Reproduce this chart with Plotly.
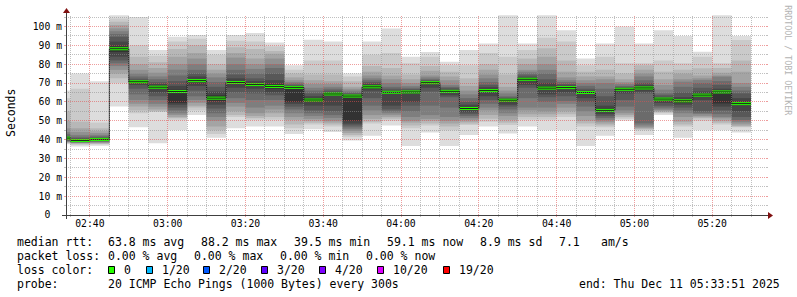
import math
import plotly.graph_objects as go
from datetime import datetime, timedelta

# ---------------- data ----------------
DAY = "2025-12-11"
range_start = "02:33:51"
range_end = "05:33:51"

interval_start = ["02:30", "02:35", "02:40", "02:45", "02:50", "02:55",
                  "03:00", "03:05", "03:10", "03:15", "03:20", "03:25",
                  "03:30", "03:35", "03:40", "03:45", "03:50", "03:55",
                  "04:00", "04:05", "04:10", "04:15", "04:20", "04:25",
                  "04:30", "04:35", "04:40", "04:45", "04:50", "04:55",
                  "05:00", "05:05", "05:10", "05:15", "05:20", "05:25"]

# 20 sorted ping RTTs (ms) per 5-minute interval
pings_0230 = [37.5, 38, 38.2, 38.5, 38.8, 39, 39.2, 39.5, 40, 40.5, 41, 41.5, 42, 43, 44, 46, 50, 55, 62, 66]
pings_0235 = [36.3, 37.2, 37.8, 38, 38.2, 38.4, 38.6, 38.8, 39, 39.2, 39.8, 40.2, 40.8, 41.5, 42.5, 44, 46, 49.5, 67, 75]
pings_0240 = [36.8, 37.5, 37.8, 38.1, 38.4, 38.7, 39, 39.3, 39.6, 39.9, 40.4, 40.8, 41.2, 41.8, 42.5, 43.5, 44.5, 46, 49, 71]
pings_0245 = [57.5, 70, 72.5, 75, 77, 79, 80.5, 82, 84, 86.5, 89.5, 92, 94.5, 96, 97.5, 99, 100.8, 102.5, 104.3, 106]
pings_0250 = [46.5, 54, 55.5, 57.5, 59, 61, 64, 67, 69, 70.2, 71.1, 71.6, 72.3, 73.5, 75, 77, 80, 84, 90, 105]
pings_0255 = [38, 54.8, 55, 56, 57.5, 59, 61, 63, 65, 67, 68.5, 69.5, 70.5, 72, 73.5, 75.5, 78, 81, 84.5, 87.5]
pings_0300 = [45, 50.5, 51.5, 52, 53, 54, 55.5, 57, 58.5, 59.5, 66.5, 68.5, 71, 74, 77, 80, 84, 88, 92, 94.5]
pings_0305 = [53, 55.5, 57, 58, 59.5, 61, 63, 66, 68.5, 70.5, 72, 73.5, 75, 77, 80, 83, 86, 90, 93.5, 95.5]
pings_0310 = [41, 43, 45, 47, 50, 52, 54, 56.5, 58.5, 60.5, 63.5, 65.5, 68, 70.5, 73, 75, 77, 80, 85, 87.5]
pings_0315 = [46, 52, 53, 55, 57.5, 59.5, 62, 65, 67.5, 69.5, 71, 72.5, 74.5, 77, 80, 83.5, 86, 89, 92.5, 95.5]
pings_0320 = [47, 50.5, 51.5, 52.5, 54, 57, 61, 64.5, 67, 68.5, 70, 71, 72.5, 75, 77.5, 80, 83, 88, 92, 96.5]
pings_0325 = [47, 50.5, 52, 54, 56, 58, 61, 63.5, 65, 67, 69.5, 71.5, 75, 78, 80, 83, 85.5, 87, 89.5, 91.5]
pings_0330 = [43, 46, 48, 50.5, 52, 54, 56, 57.5, 59, 60, 68, 68.5, 69, 69.8, 70.5, 71.5, 73, 75, 77, 79.5]
pings_0335 = [45.5, 48, 49, 50, 51, 52.5, 54, 55.5, 58, 60, 62, 63, 64.5, 66, 67.5, 69.5, 71.5, 74.5, 82, 93]
pings_0340 = [44, 47, 48, 49, 50, 51.5, 53, 55, 58, 63.5, 64.7, 65.3, 66, 67, 68, 69.5, 71, 74.5, 82, 92]
pings_0345 = [39.5, 41.5, 42.5, 43.5, 44.5, 45.5, 46.5, 47.5, 48.5, 50, 63.5, 64, 64.5, 65, 66, 67, 68, 71, 73.5, 75]
pings_0350 = [42, 48.5, 49.5, 51, 53, 55.5, 58, 62, 66, 67, 68.8, 69.5, 70.5, 71.5, 72.5, 74, 76, 79, 85, 92]
pings_0355 = [47.5, 50, 51, 52, 53, 54, 55, 56, 58, 64.5, 65.5, 66, 67, 68, 70, 72, 74, 78, 86, 99]
pings_0400 = [36.6, 46, 47.5, 49, 50, 52, 55, 58, 60, 64.5, 65.7, 66.2, 66.8, 67.5, 68.5, 70, 72, 74.5, 80.5, 84]
pings_0405 = [43.7, 47.5, 48.5, 50, 51, 53, 58, 65.5, 67.5, 69.5, 70.6, 71, 71.5, 72, 73, 74, 76.5, 79, 84, 86.5]
pings_0410 = [36.6, 45, 47, 48.5, 50, 52, 57, 62.5, 63.5, 64.8, 66, 66.5, 67.5, 68, 69, 71.5, 73.5, 76, 79.5, 81.3]
pings_0415 = [42.4, 47.7, 48.5, 49.5, 50.5, 51.5, 52.5, 53.5, 54.5, 55.7, 57.3, 58.5, 60, 62, 64, 66, 68.5, 72.5, 79.5, 87.5]
pings_0420 = [47, 49.5, 51, 53, 55.5, 57, 59, 61, 63, 65.2, 66.8, 67.8, 69, 70.5, 72.5, 74.5, 77, 80, 86, 91]
pings_0425 = [43.3, 47.7, 49, 50.5, 52.5, 54, 56, 57.5, 58.5, 60.3, 61.3, 61.8, 62.3, 63, 64.5, 66, 68, 74.5, 84, 106]
pings_0430 = [47, 50.5, 52, 53.5, 55.5, 57, 62, 67.5, 69, 71.3, 72.5, 73, 74, 75, 76, 77, 80, 83, 87.5, 91]
pings_0435 = [45, 50.5, 52, 53.5, 55, 57, 60, 62.5, 64, 66.3, 68.5, 70, 72, 75, 77, 80, 84, 88.5, 94, 106]
pings_0440 = [45, 52, 53.5, 55, 57, 59, 60.5, 63, 65, 67, 68, 68.7, 69.5, 70.5, 71.5, 73, 76, 82, 92, 98]
pings_0445 = [36.6, 47, 48.5, 50, 52.5, 55, 57.5, 60, 62, 64.2, 65.4, 66, 67, 68.5, 70, 71.5, 73.5, 76, 79.5, 83]
pings_0450 = [42, 46.5, 47.5, 48.5, 49.5, 50.5, 51.5, 52.5, 53.5, 54.8, 56.5, 58, 63, 67, 70, 72, 73.5, 77, 84, 91]
pings_0455 = [50, 51, 52, 53, 54, 55.5, 57.5, 61, 64.5, 66, 67, 67.5, 68, 68.5, 69.5, 70.5, 72, 75, 80.5, 100]
pings_0500 = [42.4, 45, 45.5, 46, 46.5, 47.5, 48.6, 64.5, 65.5, 66.5, 68, 69, 70, 71.5, 73.5, 75, 77, 79.5, 80.5, 91]
pings_0505 = [53, 54, 54.5, 55, 55.5, 56, 57, 58, 59.5, 61, 62, 62.5, 63.5, 64.5, 66.5, 69, 72, 76, 82, 98]
pings_0510 = [41, 47, 48, 49.5, 52, 54, 55.5, 57, 58.5, 59.5, 61.5, 62.5, 65, 68, 70.7, 72, 75, 77, 80.5, 95]
pings_0515 = [45, 50, 51.3, 51.8, 52.5, 53.5, 54, 55, 61, 62.8, 64.3, 65.5, 67.5, 70, 71.6, 72.5, 74, 77.8, 84, 86.6]
pings_0520 = [45, 48, 49, 50, 51.3, 52, 53.5, 55.5, 57.5, 59.2, 66, 67, 69, 71, 73.4, 74, 75.5, 78, 80.5, 106]
pings_0525 = [43.7, 46.5, 47, 47.5, 48.5, 49.5, 50.4, 52, 55, 58.5, 60, 62, 64.5, 66, 68, 70, 76, 82, 92.8, 95]

median_rtt = [40.8, 39.5, 40.1, 88.2, 70.7, 67.8, 65.5, 71.3, 62.0, 70.3, 69.2, 68.2,
              67.7, 61.0, 64.2, 63.1, 68.0, 65.1, 65.3, 70.2, 65.6, 56.5, 66.0, 60.9,
              72.0, 67.3, 67.6, 65.0, 55.5, 66.7, 67.4, 61.5, 60.6, 63.6, 65.3, 59.1]

x_tick_labels = ["02:40", "03:00", "03:20", "03:40", "04:00", "04:20", "04:40", "05:00", "05:20"]
y_tick_values = [0, 10, 20, 30, 40, 50, 60, 70, 80, 90, 100]
y_tick_labels = ["0\u00a0\u00a0", "10 m", "20 m", "30 m", "40 m", "50 m", "60 m", "70 m", "80 m", "90 m", "100 m"]

rtt_stats = ["63.8 ms avg", "88.2 ms max", "39.5 ms min", "59.1 ms now", "8.9 ms sd", "7.1", "am/s"]
loss_stats = ["0.00 % avg", "0.00 % max", "0.00 % min", "0.00 % now"]
loss_labels = ["0", "1/20", "2/20", "3/20", "4/20", "10/20", "19/20"]
loss_colors = ["#26ff00", "#00b8ff", "#0059ff", "#5e00ff", "#7e00ff", "#dd00ff", "#ff0000"]
probe_text = "20 ICMP Echo Pings (1000 Bytes) every 300s"
end_text = "end: Thu Dec 11 05:33:51 2025"

smoke = [pings_0230, pings_0235, pings_0240, pings_0245, pings_0250, pings_0255,
         pings_0300, pings_0305, pings_0310, pings_0315, pings_0320, pings_0325,
         pings_0330, pings_0335, pings_0340, pings_0345, pings_0350, pings_0355,
         pings_0400, pings_0405, pings_0410, pings_0415, pings_0420, pings_0425,
         pings_0430, pings_0435, pings_0440, pings_0445, pings_0450, pings_0455,
         pings_0500, pings_0505, pings_0510, pings_0515, pings_0520, pings_0525]

# ---------------- geometry ----------------
W, H = 797, 297
ML, MT, PW, PH = 66, 15, 700, 200
MR, MB = W - ML - PW, H - MT - PH
Y_MAX = 106.1
STEP = timedelta(minutes=5)
STEP_MS = 300000


def ts(hm):
    return datetime.fromisoformat(f"{DAY} {hm}" + (":00" if hm.count(":") == 1 else ""))


def px_x(px):
    return (px - ML) / PW


def px_y(py):
    return (MT + PH - py) / PH


T0, T1 = ts(range_start), ts(range_end)
SPAN = (T1 - T0).total_seconds()


def snap_x(t):  # pixel centre of the column that holds time t
    return px_x(math.floor(ML + (t - T0).total_seconds() / SPAN * PW) + 0.5)


def snap_y(v):  # pixel centre of the row that holds value v
    return px_y(math.floor(MT + PH - v / Y_MAX * PH) + 0.5)


starts = [ts(s) for s in interval_start]
centers = [t + STEP / 2 for t in starts]
MONO = "DejaVu Sans Mono"

fig = go.Figure()

# smoke bands (smokeping style)
npings = 20
half = npings // 2
for ibot in range(1, half + 1):
    g = int(190 / half * (half - ibot)) + 50
    lo = [p[ibot - 1] for p in smoke]
    hi = [p[npings - ibot] for p in smoke]
    fig.add_trace(go.Bar(
        x=centers, base=lo, y=[h - l for h, l in zip(hi, lo)], width=STEP_MS,
        marker=dict(color=f"rgb({g},{g},{g})", line=dict(width=0)),
        hoverinfo="skip", showlegend=False))

# median step line
fig.add_trace(go.Scatter(
    x=starts + [starts[-1] + STEP], y=median_rtt + [median_rtt[-1]],
    mode="lines", line=dict(color="#202020", width=1, shape="hv"),
    hoverinfo="skip", showlegend=False))

# median loss-colour markers
mh = 1.6
fig.add_trace(go.Bar(
    x=centers, base=[m - mh / 2 for m in median_rtt], y=[mh] * len(median_rtt),
    width=STEP_MS, marker=dict(color=loss_colors[0], line=dict(width=0)),
    hoverinfo="skip", showlegend=False))

shapes = []
GRID = "rgba(143,143,143,0.56)"
MGRID = "rgba(224,80,80,0.56)"
DOT = "1px,1px"
# horizontal grid
for v in range(5, int(Y_MAX) + 1, 5):
    col = MGRID if v % 10 == 0 else GRID
    yy = snap_y(v)
    shapes.append(dict(type="line", xref="paper", yref="paper", x0=0, x1=1, y0=yy, y1=yy,
                       line=dict(color=col, width=1, dash=DOT), layer="above"))
    shapes.append(dict(type="line", xref="paper", yref="paper", x0=-2 / PW, x1=0, y0=yy, y1=yy,
                       line=dict(color=col, width=1), layer="above"))
    shapes.append(dict(type="line", xref="paper", yref="paper", x0=1, x1=1 + 2 / PW, y0=yy, y1=yy,
                       line=dict(color=col, width=1), layer="above"))
# vertical grid
t = starts[1]
while t < T1:
    col = MGRID if t.minute % 20 == 0 else GRID
    xx = snap_x(t)
    shapes.append(dict(type="line", xref="paper", yref="paper", x0=xx, x1=xx, y0=0, y1=1,
                       line=dict(color=col, width=1, dash=DOT), layer="above"))
    shapes.append(dict(type="line", xref="paper", yref="paper", x0=xx, x1=xx, y0=-2 / PH, y1=0,
                       line=dict(color=col, width=1), layer="above"))
    t += STEP

AXIS = "#404040"
ARROW = "#801010"
shapes.append(dict(type="line", xref="paper", yref="paper", x0=px_x(ML - 4), x1=px_x(ML + PW + 4),
                   y0=px_y(MT + PH + 0.5), y1=px_y(MT + PH + 0.5), line=dict(color=AXIS, width=1), layer="above"))
shapes.append(dict(type="line", xref="paper", yref="paper", x0=px_x(ML + 0.5), x1=px_x(ML + 0.5),
                   y0=px_y(MT + PH + 4), y1=px_y(MT - 4), line=dict(color=AXIS, width=1), layer="above"))
shapes.append(dict(type="path", xref="paper", yref="paper",
                   path=f"M {px_x(ML+PW+2)},{px_y(MT+PH-3)} L {px_x(ML+PW+2)},{px_y(MT+PH+4)} L {px_x(ML+PW+7)},{px_y(MT+PH+0.5)} Z",
                   fillcolor=ARROW, line=dict(width=0), layer="above"))
shapes.append(dict(type="path", xref="paper", yref="paper",
                   path=f"M {px_x(ML-3)},{px_y(MT-2)} L {px_x(ML+4)},{px_y(MT-2)} L {px_x(ML+0.5)},{px_y(MT-7)} Z",
                   fillcolor=ARROW, line=dict(width=0), layer="above"))

annotations = []
LF = dict(family=MONO, size=11.5, color="#000000")


def text(px, py, s, anchor="left", font=LF, angle=0):
    annotations.append(dict(xref="paper", yref="paper", x=px_x(px), y=px_y(py), text=s,
                            showarrow=False, xanchor=anchor, yanchor="middle", font=font,
                            borderpad=0, textangle=angle))


ROW = [241.5, 255.5, 269.5, 283.5]
text(16, ROW[0], "median rtt:")
for s, x in zip(rtt_stats, [107.3, 200, 292.7, 386, 479.3, 558.3, 600]):
    text(x, ROW[0], s)
text(16, ROW[1], "packet loss:")
for s, x in zip(loss_stats, [107.3, 193.3, 279.3, 365.3]):
    text(x, ROW[1], s)
text(16, ROW[2], "loss color:")
for lab, col, bx in zip(loss_labels, loss_colors, [108.3, 145.7, 203.3, 261, 319.3, 377, 442.7]):
    shapes.append(dict(type="rect", xref="paper", yref="paper",
                       x0=px_x(round(bx) + 0.5), x1=px_x(round(bx) + 6.5),
                       y0=px_y(ROW[2] - 3.5 + 0.5), y1=px_y(ROW[2] + 3.5 + 0.5),
                       fillcolor=col, line=dict(color="#000000", width=1), layer="above"))
    text(bx + 15, ROW[2], lab)
text(16, ROW[3], "probe:")
text(107.3, ROW[3], probe_text)
text(578.3, ROW[3], end_text)

# axis title and watermark
text(11, 113, "Seconds", anchor="center", angle=-90)
text(787.7, 60, "RRDTOOL / TOBI OETIKER", anchor="center",
     font=dict(family=MONO, size=8.3, color="#b3b3b3"), angle=90)

TF = dict(family=MONO, size=9.75, color="#000000")
fig.update_layout(
    width=W, height=H, margin=dict(l=ML, r=MR, t=MT, b=MB, pad=0),
    paper_bgcolor="#ffffff", plot_bgcolor="#ffffff",
    barmode="overlay", showlegend=False,
    shapes=shapes, annotations=annotations,
    xaxis=dict(type="date", range=[T0, T1],
               tickmode="array", tickvals=[ts(s) for s in x_tick_labels], ticktext=x_tick_labels,
               showgrid=False, zeroline=False, showline=False, ticks="", tickfont=TF,
               ticklabelstandoff=1, fixedrange=True),
    yaxis=dict(range=[0, Y_MAX], tickmode="array", tickvals=y_tick_values, ticktext=y_tick_labels,
               showgrid=False, zeroline=False, showline=False, ticks="", tickfont=TF,
               ticklabelstandoff=3, fixedrange=True),
)

fig.write_html("out.html")
